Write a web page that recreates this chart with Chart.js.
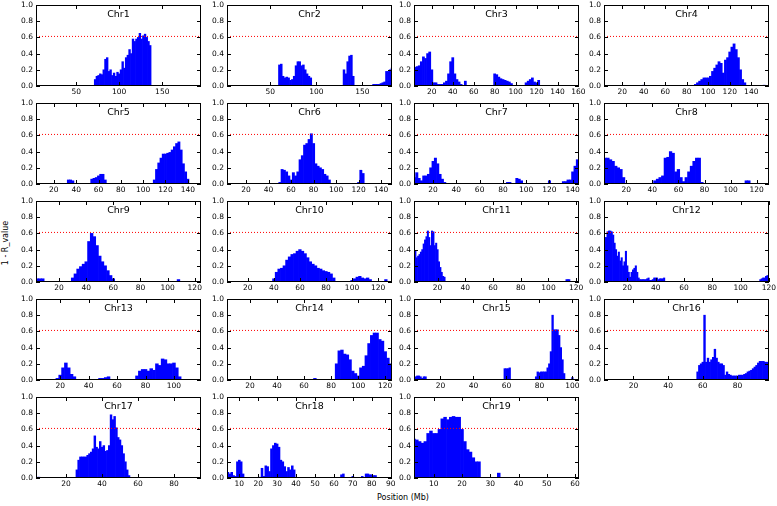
<!DOCTYPE html>
<html>
<head>
<meta charset="utf-8">
<script src="https://cdn.jsdelivr.net/npm/chart.js@4.4.0/dist/chart.umd.min.js"></script>
<style>
  body { margin: 0; background: #fff; width: 777px; height: 506px; position: relative; overflow: hidden; }
  canvas { position: absolute; }
  .lbl { position: absolute; font: 8px 'DejaVu Sans'; color: #000; white-space: nowrap; }
</style>
</head>
<body>
<div class="lbl" id="xlab">Position (Mb)</div>
<div class="lbl" id="ylab">1 - R_value</div>
<script>
// ---- data ----
var chromNames = ['Chr1', 'Chr2', 'Chr3', 'Chr4', 'Chr5', 'Chr6', 'Chr7', 'Chr8', 'Chr9', 'Chr10',
  'Chr11', 'Chr12', 'Chr13', 'Chr14', 'Chr15', 'Chr16', 'Chr17', 'Chr18', 'Chr19'];
var chromStart = [3.3, 3.2, 3, 3, 4, 3, 3.6, 3, 3, 4, 3, 3.5, 3, 3, 4, 3, 3.3, 3.5, 3];
var chromEnd = [195, 182, 160.5, 156.5, 151.8, 149.7, 145.4, 129.4, 124.6, 130.7, 122, 120.1, 119, 125, 104, 98.2, 95, 90.7, 61.4];
var binSize = [2, 2, 2, 2, 2, 2, 2, 2, 2, 2, 1, 1, 2, 2, 1, 1, 1, 1, 1];
var xTicks = [
  [50, 100, 150], [50, 100, 150], [20, 40, 60, 80, 100, 120, 140, 160],
  [20, 40, 60, 80, 100, 120, 140], [20, 40, 60, 80, 100, 120, 140], [20, 40, 60, 80, 100, 120, 140],
  [20, 40, 60, 80, 100, 120, 140], [20, 40, 60, 80, 100, 120], [20, 40, 60, 80, 100, 120],
  [20, 40, 60, 80, 100, 120], [20, 40, 60, 80, 100, 120], [20, 40, 60, 80, 100, 120],
  [20, 40, 60, 80, 100], [20, 40, 60, 80, 100, 120], [20, 40, 60, 80, 100],
  [20, 40, 60, 80], [20, 40, 60, 80], [10, 20, 30, 40, 50, 60, 70, 80, 90], [10, 20, 30, 40, 50, 60]
];
var yTicks = [0, 0.2, 0.4, 0.6, 0.8, 1.0];
var threshold = 0.612;

// 1 - R value per bin: [first bin position (Mb), values...]
var chr1 = [[72, [0.08, 0.12, 0.13, 0.15, 0.14, 0.2, 0.33, 0.35, 0.18, 0.2, 0.13, 0.16, 0.12, 0.17, 0.15, 0.2, 0.3, 0.22, 0.35, 0.38, 0.45, 0.4, 0.58, 0.55, 0.58, 0.6, 0.65, 0.58, 0.62, 0.64, 0.6, 0.55, 0.5]]];
var chr2 = [[60, [0.26, 0.27, 0.12, 0.1, 0.11, 0.1, 0.07, 0.08, 0.12, 0.25, 0.3, 0.3, 0.25, 0.26, 0.2, 0.15, 0.12, 0.1]],
  [130, [0.2, 0.15, 0.3, 0.37, 0.38, 0.12]],
  [162, [0.02, 0.02, 0.02, 0.02, 0.03, 0.04, 0.05, 0.18, 0.18, 0.2, 0.22]]];
var chr3 = [[4, [0.23, 0.24, 0.25, 0.3, 0.36, 0.34, 0.4, 0.42, 0.2, 0.04, 0.04, 0.02, 0.02, 0.02, 0.04, 0.06, 0.15, 0.3, 0.35, 0.15, 0.08, 0.05, 0.02, 0, 0.06]],
  [80, [0.15, 0.14, 0.11, 0.09, 0.08, 0.07, 0.06, 0.05, 0.03]],
  [110, [0.04, 0.06, 0.08, 0.1, 0.05, 0.04, 0.07]]];
var chr4 = [[40, [0.01]],
  [88, [0.02, 0.04, 0.06, 0.08, 0.1, 0.1, 0.1, 0.12, 0.18, 0.22, 0.26, 0.3, 0.28, 0.16, 0.32, 0.35, 0.42, 0.48, 0.52, 0.45, 0.35, 0.2, 0.08, 0.04]],
  [152, [0.01]]];
var chr5 = [[33, [0.05, 0.05, 0.04]],
  [54, [0.06, 0.07, 0.08, 0.1, 0.12, 0.12, 0.05]],
  [110, [0.05, 0.18, 0.26, 0.32, 0.37, 0.37, 0.38, 0.39, 0.42, 0.46, 0.5, 0.52, 0.42, 0.25, 0.15, 0.06]]];
var chr6 = [[50, [0.02, 0.18, 0.17, 0.15, 0.1, 0.05, 0.14, 0.1, 0.15, 0.3, 0.35, 0.48, 0.5, 0.55, 0.62, 0.5, 0.25, 0.22, 0.2, 0.18, 0.12, 0.1, 0.05]],
  [120, [0.02, 0.17, 0.13]]];
var chr7 = [[4, [0.08, 0.14, 0.07, 0.04, 0.1, 0.1, 0.12, 0.2, 0.28, 0.32, 0.25, 0.12, 0.06, 0.02]],
  [84, [0.02, 0.02]], [92, [0.07, 0.06, 0.04]], [120, [0.04]],
  [132, [0.03, 0.03, 0.05, 0.05, 0.15, 0.22, 0.3, 0.36]]];
var chr8 = [[2, [0.32, 0.32, 0.32, 0.3, 0.28, 0.22, 0.2, 0.18, 0.08]],
  [42, [0.04, 0.06, 0.08, 0.1, 0.32, 0.33, 0.4, 0.38, 0.15, 0.18, 0.08, 0.03, 0.08, 0.15, 0.22, 0.28, 0.32, 0.32, 0.02]],
  [112, [0.04, 0.04]]];
var chr9 = [[2, [0.04, 0.04, 0.04, 0.04]],
  [30, [0.05, 0.1, 0.16, 0.19, 0.22, 0.25, 0.5, 0.6, 0.56, 0.45, 0.32, 0.25, 0.2, 0.14, 0.08, 0.04]],
  [108, [0.03]]];
var chr10 = [[40, [0.04, 0.12, 0.16, 0.17, 0.2, 0.27, 0.31, 0.34, 0.35, 0.38, 0.4, 0.38, 0.35, 0.3, 0.25, 0.22, 0.2, 0.17, 0.16, 0.14, 0.13, 0.12, 0.1, 0.05]],
  [100, [0.02, 0.04, 0.06, 0.07, 0.05, 0.04, 0.05, 0.03]], [126, [0.03]]];
var chr11 = [[3, [0.3, 0.38, 0.3, 0.32, 0.34, 0.37, 0.4, 0.47, 0.52, 0.56, 0.63, 0.55, 0.45, 0.63, 0.62, 0.45, 0.48, 0.4, 0.25, 0.18, 0.12, 0.07, 0.06]],
  [113, [0.03, 0.03, 0.03]]];
var chr12 = [[4, [0.55, 0.55, 0.62, 0.63, 0.63, 0.62, 0.58, 0.48, 0.4, 0.32, 0.37, 0.26, 0.3, 0.2, 0.25, 0.38, 0.2, 0.12, 0.06, 0.12, 0.15, 0.17, 0.2, 0.12, 0.05, 0.03, 0.03, 0.03, 0.03, 0.03, 0.04, 0.05, 0.02, 0.02, 0.03, 0.05, 0.05, 0.05, 0.03, 0.04, 0.04, 0.04, 0.05]],
  [114, [0.03, 0.04, 0.05, 0.05, 0.07, 0.08, 0.08]]];
var chr13 = [[18, [0.02, 0.06, 0.15, 0.21, 0.15, 0.07, 0.04]],
  [48, [0.02, 0.02, 0.03, 0.04]],
  [74, [0.05, 0.11, 0.13, 0.13, 0.11, 0.14, 0.12, 0.2, 0.18, 0.26, 0.25, 0.2, 0.2, 0.21, 0.15, 0.04]]];
var chr14 = [[68, [0.02]],
  [84, [0.2, 0.36, 0.37, 0.32, 0.31, 0.25, 0.11, 0.08, 0.05, 0.15, 0.17, 0.3, 0.45, 0.55, 0.58, 0.58, 0.5, 0.48, 0.35, 0.27, 0.2]]];
var chr15 = [[5, [0.04, 0.05, 0.05, 0.04, 0.02, 0.04, 0.04]],
  [59, [0.14, 0.14, 0.14, 0.15]],
  [78, [0.04, 0.1, 0.09, 0.1, 0.1, 0.1, 0.1, 0.15, 0.2, 0.35, 0.8, 0.62, 0.62, 0.62, 0.55, 0.4, 0.25, 0.08]],
  [100, [0.03]]];
var chr16 = [[57, [0.1, 0.18, 0.2, 0.22, 0.8, 0.22, 0.27, 0.22, 0.25, 0.28, 0.38, 0.27, 0.22, 0.2, 0.2, 0.18, 0.06, 0.1, 0.07, 0.06, 0.05, 0.05, 0.05, 0.05, 0.06, 0.06, 0.06, 0.07, 0.08, 0.1, 0.11, 0.12, 0.14, 0.16, 0.18, 0.21, 0.23, 0.23, 0.23, 0.22, 0.22]]];
var chr17 = [[3, [0.01, 0.01, 0.01]],
  [26, [0.1, 0.22, 0.26, 0.26, 0.26, 0.26, 0.28, 0.3, 0.32, 0.36, 0.52, 0.38, 0.36, 0.45, 0.38, 0.4, 0.33, 0.34, 0.4, 0.78, 0.72, 0.76, 0.62, 0.5, 0.47, 0.4, 0.3, 0.2, 0.1, 0.03]]];
var chr18 = [[4, [0.07, 0.05, 0.07, 0.03, 0.02, 0.2, 0.22, 0.2, 0.05]],
  [21, [0.01, 0.12, 0.02, 0.15, 0.14, 0.08, 0.36, 0.4, 0.43, 0.42, 0.38, 0.22, 0.2, 0.14, 0.08, 0.13, 0.1, 0.15, 0.1]],
  [64, [0.04, 0.05]], [70, [0.02]], [75, [0.02]], [77, [0.05, 0.05, 0.04, 0.04, 0.03, 0.03]]];
var chr19 = [[3, [0.48, 0.47, 0.45, 0.43, 0.45, 0.55, 0.58, 0.55, 0.55, 0.6, 0.73, 0.75, 0.72, 0.75, 0.76, 0.75, 0.75, 0.6, 0.45, 0.35, 0.32, 0.25, 0.2, 0.2]],
  [33, [0.06]]];
var chromBins = [chr1, chr2, chr3, chr4, chr5, chr6, chr7, chr8, chr9, chr10,
  chr11, chr12, chr13, chr14, chr15, chr16, chr17, chr18, chr19];

// ---- layout ----
var colLeft = [36, 227, 414, 604];
var rowTop = [5, 103, 201, 299, 397];
var plotW = 165, plotH = 81;
var padL = 34, padT = 8, padR = 12, padB = 16;
var tickFont = { family: 'DejaVu Sans', size: 7.5 };

var xl = document.getElementById('xlab');
xl.style.left = '403px'; xl.style.top = '493px'; xl.style.transform = 'translateX(-50%)';
var yl = document.getElementById('ylab');
yl.style.left = '5px'; yl.style.top = '243px'; yl.style.transform = 'translate(-50%, -50%) rotate(-90deg)';

// axes box, inward ticks and panel title
var framePlugin = {
  id: 'frame',
  afterDraw: function(chart, args, opts) {
    var ctx = chart.ctx, a = chart.chartArea;
    var xs = chart.scales.x, ys = chart.scales.y;
    var L = Math.round(a.left), T = Math.round(a.top), R = Math.round(a.right), B = Math.round(a.bottom);
    ctx.save();
    ctx.setLineDash([]);
    ctx.fillStyle = '#000';
    ctx.fillRect(L, T, R - L, 1);
    ctx.fillRect(L, B - 1, R - L, 1);
    ctx.fillRect(L, T, 1, B - T);
    ctx.fillRect(R - 1, T, 1, B - T);
    xs.ticks.forEach(function(t, i) {
      var px = Math.round(xs.getPixelForTick(i));
      ctx.fillRect(px, B - 4, 1, 4);
      ctx.fillRect(px, T, 1, 4);
    });
    ys.ticks.forEach(function(t, i) {
      var py = Math.round(ys.getPixelForTick(i));
      ctx.fillRect(L, py, 4, 1);
      ctx.fillRect(R - 4, py, 4, 1);
    });
    ctx.font = '9.5px "DejaVu Sans"';
    ctx.textAlign = 'center';
    ctx.textBaseline = 'middle';
    ctx.fillText(opts.title, (a.left + a.right) / 2, a.top + 10);
    ctx.restore();
  }
};

function makeChart(k) {
  var col = k % 4, row = Math.floor(k / 4);
  var cv = document.createElement('canvas');
  cv.width = padL + plotW + padR;
  cv.height = padT + plotH + padB;
  cv.style.left = (colLeft[col] - padL) + 'px';
  cv.style.top = (rowTop[row] - padT) + 'px';
  document.body.appendChild(cv);

  var bars = [];
  chromBins[k].forEach(function(seg) {
    seg[1].forEach(function(v, i) {
      bars.push({ x: seg[0] + i * binSize[k], y: v });
    });
  });
  var ticks = xTicks[k];

  new Chart(cv, {
    type: 'bar',
    data: {
      datasets: [
        { type: 'line', data: [{ x: chromStart[k], y: threshold }, { x: chromEnd[k], y: threshold }],
          borderColor: '#ff0000', borderWidth: 1, borderDash: [1, 2], pointRadius: 0, order: 0 },
        { data: bars, backgroundColor: '#0000ff', borderWidth: 0,
          barPercentage: 1, categoryPercentage: 1, order: 1 }
      ]
    },
    options: {
      responsive: false,
      animation: false,
      devicePixelRatio: 1,
      events: [],
      layout: { padding: { left: 0, top: padT, right: padR, bottom: 0 } },
      plugins: { legend: { display: false }, tooltip: { enabled: false }, frame: { title: chromNames[k] } },
      scales: {
        x: {
          type: 'linear', min: chromStart[k], max: chromEnd[k], offset: false,
          afterBuildTicks: function(s) { s.ticks = ticks.map(function(v) { return { value: v }; }); },
          afterFit: function(s) { s.height = padB; },
          grid: { display: false, drawTicks: false }, border: { display: false },
          ticks: { font: tickFont, color: '#000', padding: 2, maxRotation: 0, autoSkip: false }
        },
        y: {
          min: 0, max: 1,
          afterBuildTicks: function(s) { s.ticks = yTicks.map(function(v) { return { value: v }; }); },
          afterFit: function(s) { s.width = padL; },
          grid: { display: false, drawTicks: false }, border: { display: false },
          ticks: { font: tickFont, color: '#000', padding: 3, callback: function(v) { return v.toFixed(1); } }
        }
      }
    },
    plugins: [framePlugin]
  });
}

for (var k = 0; k < chromNames.length; k++) makeChart(k);
</script>
</body>
</html>
